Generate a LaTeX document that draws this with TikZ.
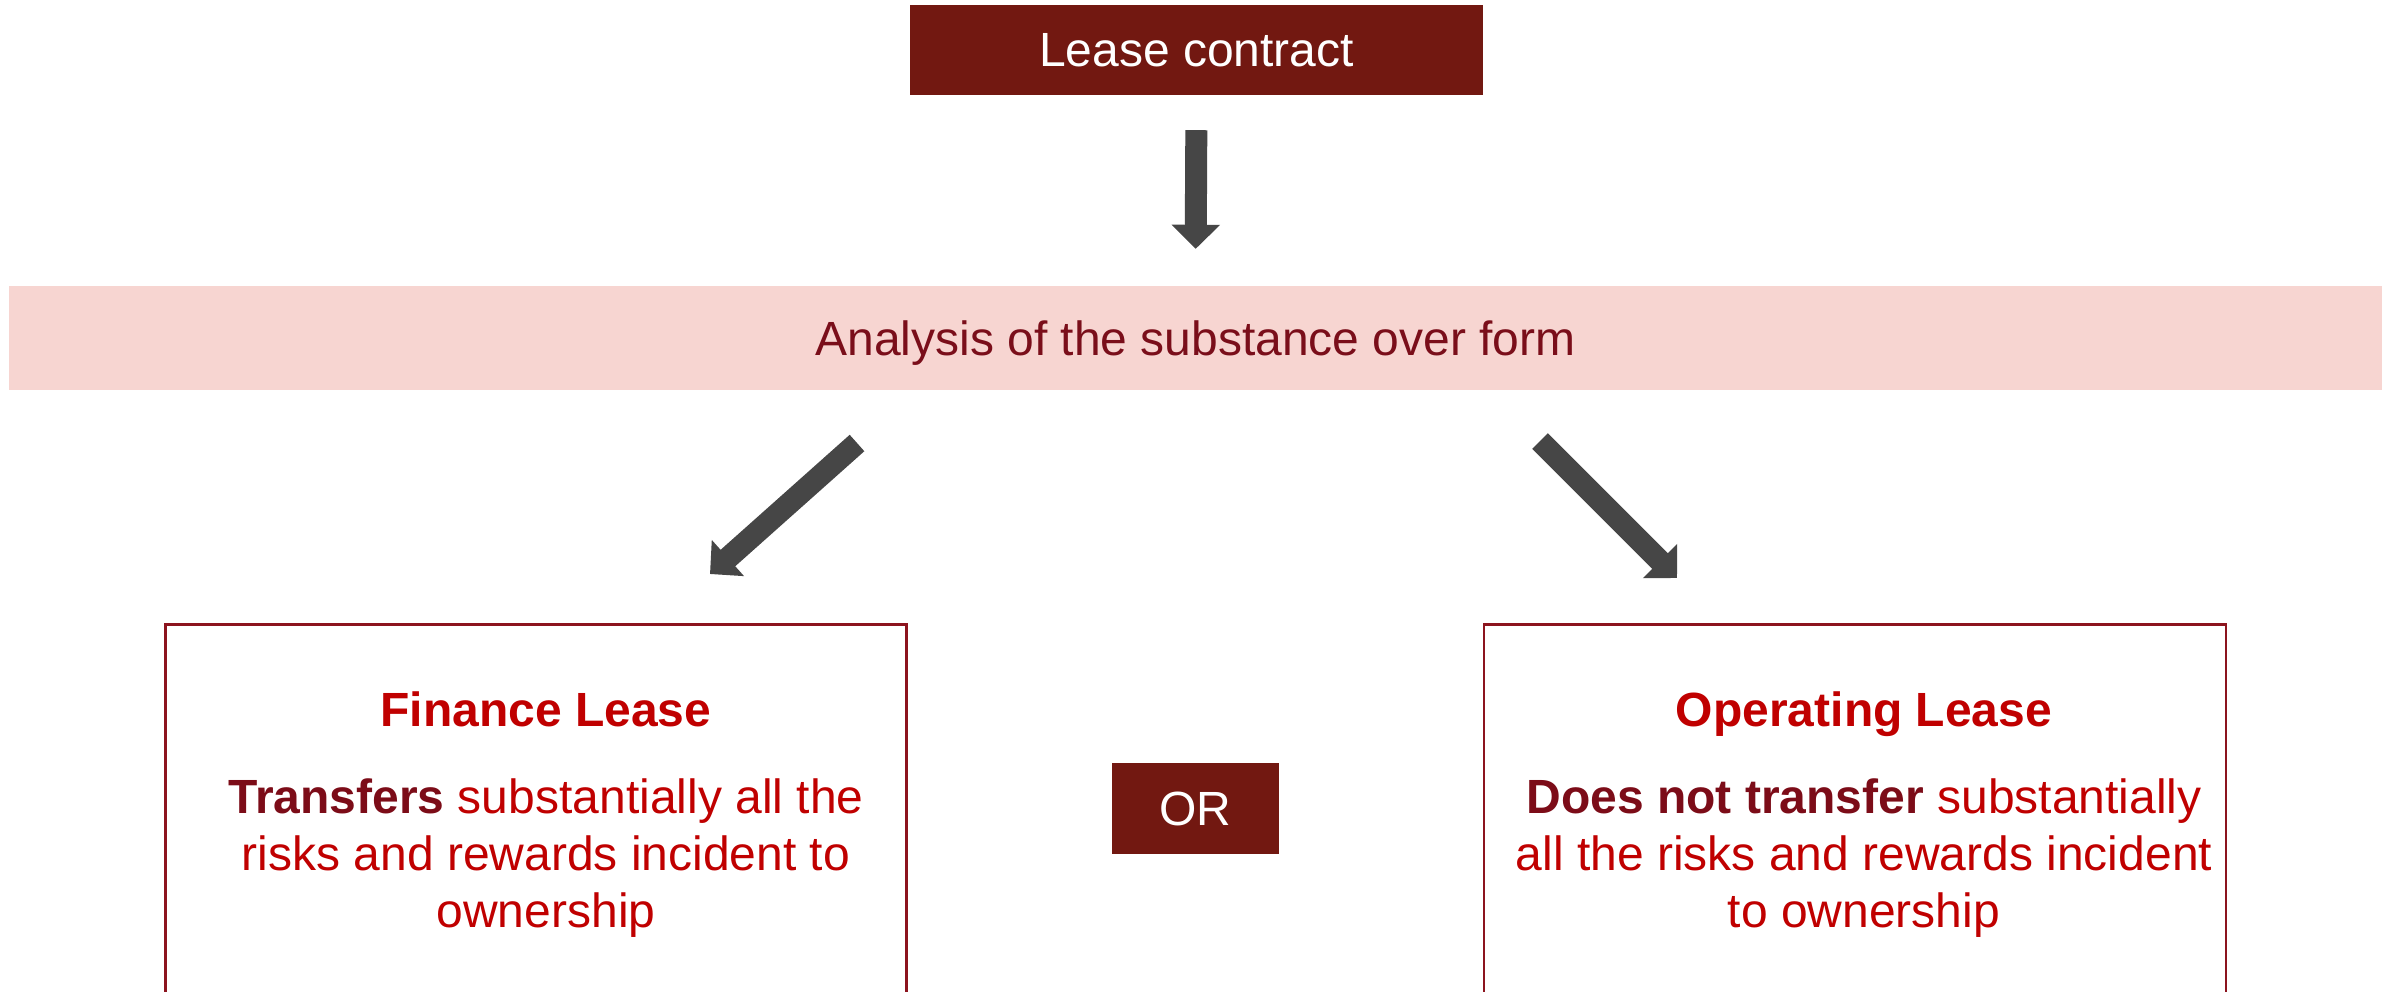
\documentclass[tikz,border=0pt]{standalone}
\usepackage{fontspec}
\setmainfont{Liberation Sans}
\usetikzlibrary{arrows.meta}
\definecolor{boxfill}{RGB}{114,24,17}
\definecolor{pinkband}{RGB}{247,213,209}
\definecolor{bandtext}{RGB}{122,14,26}
\definecolor{titlered}{RGB}{192,0,0}
\definecolor{boldred}{RGB}{124,12,24}
\definecolor{bordred}{RGB}{140,20,30}
\definecolor{arrowgray}{RGB}{70,70,70}
\tikzset{
  bigfont/.style={font=\fontsize{48}{57}\selectfont},
  filledbox/.style={rectangle, fill=boxfill, text=white, inner sep=0pt, bigfont},
  bandbox/.style={rectangle, fill=pinkband, text=bandtext, inner sep=0pt, bigfont},
  outlinebox/.style={rectangle, draw=bordred, line width=2.5pt, inner sep=0pt},
  boxtext/.style={align=center, text=titlered, inner sep=0pt, bigfont},
  bigarrow/.style={draw=arrowgray, fill=arrowgray, line width=22pt, line cap=butt,
    -{Triangle[width=47pt,length=24pt]}}
}
\begin{document}
\begin{tikzpicture}[x=1pt,y=-1pt]
\useasboundingbox (0,0) rectangle (2397,991);
\fill[white] (0,0) rectangle (2397,991);
\clip (0,0) rectangle (2397,991);

\node[filledbox, minimum width=573pt, minimum height=90pt] (lease) at (1196.5,50) {Lease contract};
\node[bandbox, minimum width=2373pt, minimum height=104pt, text depth=0pt] (band) at (1195.5,338) {Analysis of the substance over form};

\draw[bigarrow, shorten <=35pt, shorten >=37pt] (lease.south) -- (band.north);

\node[outlinebox, minimum width=741pt, minimum height=420pt, anchor=north] (lbox) at (536,623) {};
\node[outlinebox, minimum width=742pt, minimum height=420pt, anchor=north] (rbox) at (1855,623) {};

\coordinate (la1) at (857,443);
\coordinate (la2) at (710,574);
\coordinate (ra1) at (1540,441);
\coordinate (ra2) at (1677,578);
\draw[bigarrow] (la1) -- (la2);
\draw[bigarrow] (ra1) -- (ra2);

\node[boxtext, anchor=base] (ltext) at (546,927)
  {\textbf{Finance Lease}\\[30pt]
   {\color{boldred}\textbf{Transfers}} substantially all the\\
   risks and rewards incident to\\
   ownership};
\node[boxtext, anchor=base] (rtext) at (1864,927)
  {\textbf{Operating Lease}\\[30pt]
   {\color{boldred}\textbf{Does not transfer}} substantially\\
   all the risks and rewards incident\\
   to ownership};

\node[filledbox, minimum width=167pt, minimum height=91pt] (or) at (1195.5,808.5) {OR};
\end{tikzpicture}
\end{document}
